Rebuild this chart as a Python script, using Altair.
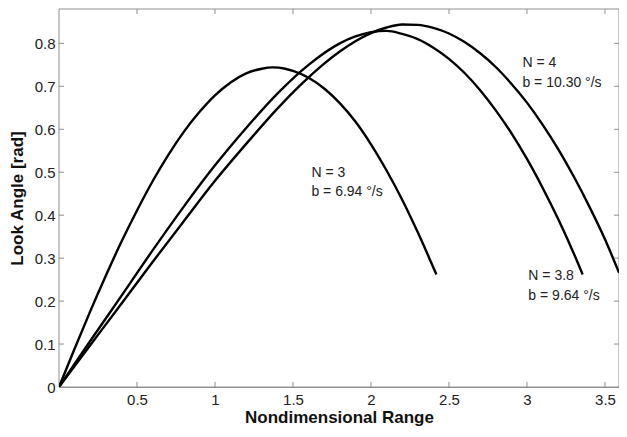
import altair as alt
import pandas as pd

# ---- data ----
n3_x = [0, 0.1, 0.2, 0.3, 0.4, 0.5, 0.6, 0.7, 0.8, 0.9, 1.0, 1.1, 1.2, 1.3, 1.37,
        1.45, 1.5, 1.6, 1.7, 1.8, 1.9, 2.0, 2.1, 2.2, 2.3, 2.419]
n3_y = [0, 0.089, 0.176, 0.259, 0.338, 0.411, 0.479, 0.540, 0.594, 0.640, 0.679, 0.709, 0.730,
        0.741, 0.744, 0.741, 0.736, 0.720, 0.695, 0.661, 0.618, 0.565, 0.504, 0.436, 0.360, 0.262]

n38_x = [0, 0.2, 0.4, 0.6, 0.8, 1.0, 1.2, 1.4, 1.6, 1.8, 1.9, 2.0, 2.1, 2.2, 2.3, 2.4,
         2.5, 2.6, 2.7, 2.8, 2.9, 3.0, 3.1, 3.2, 3.3, 3.357]
n38_y = [0, 0.107, 0.212, 0.318, 0.420, 0.516, 0.603, 0.683, 0.750, 0.800, 0.816, 0.826, 0.829,
         0.822, 0.810, 0.790, 0.764, 0.731, 0.691, 0.644, 0.591, 0.531, 0.464, 0.391, 0.311, 0.262]

n4_x = [0, 0.2, 0.4, 0.6, 0.8, 1.0, 1.2, 1.4, 1.5, 1.6, 1.7, 1.8, 1.9, 2.0, 2.1, 2.2, 2.3,
        2.4, 2.5, 2.6, 2.7, 2.8, 2.9, 3.0, 3.1, 3.2, 3.3, 3.4, 3.5, 3.59]
n4_y = [0, 0.097, 0.194, 0.291, 0.386, 0.480, 0.566, 0.648, 0.686, 0.721, 0.753, 0.781, 0.805,
        0.824, 0.837, 0.844, 0.843, 0.836, 0.823, 0.803, 0.777, 0.745, 0.706, 0.662, 0.611,
        0.554, 0.490, 0.420, 0.344, 0.266]

label_text = ["N = 3", "b = 6.94 °/s", "N = 4", "b = 10.30 °/s", "N = 3.8", "b = 9.64 °/s"]
label_x = [1.618, 1.618, 2.971, 2.971, 3.009, 3.009]
label_y = [0.499, 0.455, 0.754, 0.708, 0.258, 0.213]

x_ticks = [0.5, 1, 1.5, 2, 2.5, 3, 3.5]
y_ticks = [0, 0.1, 0.2, 0.3, 0.4, 0.5, 0.6, 0.7, 0.8]
x_domain = [0, 3.59]
y_domain = [0, 0.88]

# ---- build tables ----
rows = []
for name, xs_, ys_ in [("N=3", n3_x, n3_y), ("N=3.8", n38_x, n38_y), ("N=4", n4_x, n4_y)]:
    for i, (a, b) in enumerate(zip(xs_, ys_)):
        rows.append({"curve": name, "i": i, "x": a, "y": b})
df = pd.DataFrame(rows)
labels = pd.DataFrame({"t": label_text, "x": label_x, "y": label_y})
xt = pd.DataFrame({"x": x_ticks})
yt = pd.DataFrame({"y": y_ticks[1:]})
frame_df = pd.DataFrame({"k": [0]})

W, H = 560, 378
FONT = "Liberation Sans"
GRAY = "#8f8f8f"
xs = alt.Scale(domain=x_domain, nice=False, zero=False)
ys = alt.Scale(domain=y_domain, nice=False, zero=False)
xaxis = alt.Axis(values=x_ticks, format="~g", title="Nondimensional Range", domain=False,
                 ticks=False, tickSize=0, grid=False, labelPadding=5,
                 titleBaseline="alphabetic", titleY=35.5)
yaxis = alt.Axis(values=y_ticks, format="~g", title="Look Angle [rad]", domain=False,
                 ticks=False, tickSize=0, grid=False, labelPadding=4, titlePadding=8)
X = lambda: alt.X("x:Q", scale=xs, axis=xaxis)
Y = lambda: alt.Y("y:Q", scale=ys, axis=yaxis)

frame = alt.Chart(frame_df).mark_rect(fill="white", stroke=GRAY, strokeWidth=1).encode(
    x=alt.value(0), x2=alt.value(W), y=alt.value(0), y2=alt.value(H))

curves = alt.Chart(df).mark_line(color="black", strokeWidth=2.4, clip=True,
                                 interpolate="monotone").encode(
    x=X(), y=Y(), detail="curve:N", order="i:Q")

bottom = alt.Chart(xt).mark_rule(color=GRAY, strokeWidth=1).encode(
    x=X(), y=alt.value(H), y2=alt.value(H - 5))
top = alt.Chart(xt).mark_rule(color=GRAY, strokeWidth=1).encode(
    x=X(), y=alt.value(0), y2=alt.value(5))
left = alt.Chart(yt).mark_rule(color=GRAY, strokeWidth=1).encode(
    y=Y(), x=alt.value(0), x2=alt.value(5))
right = alt.Chart(yt).mark_rule(color=GRAY, strokeWidth=1).encode(
    y=Y(), x=alt.value(W), x2=alt.value(W - 5))

text = alt.Chart(labels).mark_text(align="left", baseline="middle", font=FONT,
                                   fontSize=14, color="#222").encode(
    x=X(), y=Y(), text="t:N")

chart = alt.layer(frame, curves, bottom, top, left, right, text).properties(
    width=W, height=H, autosize="none", background="white",
    padding={"left": 51, "top": 1, "right": 0, "bottom": 39},
).configure_view(stroke=GRAY, strokeWidth=1).configure_axis(
    labelFont=FONT, labelFontSize=15, labelColor="#222",
    titleFont=FONT, titleFontSize=17, titleFontWeight="bold", titleColor="#111",
)

chart.save("out.html", embed_options={"renderer": "svg", "actions": False})
